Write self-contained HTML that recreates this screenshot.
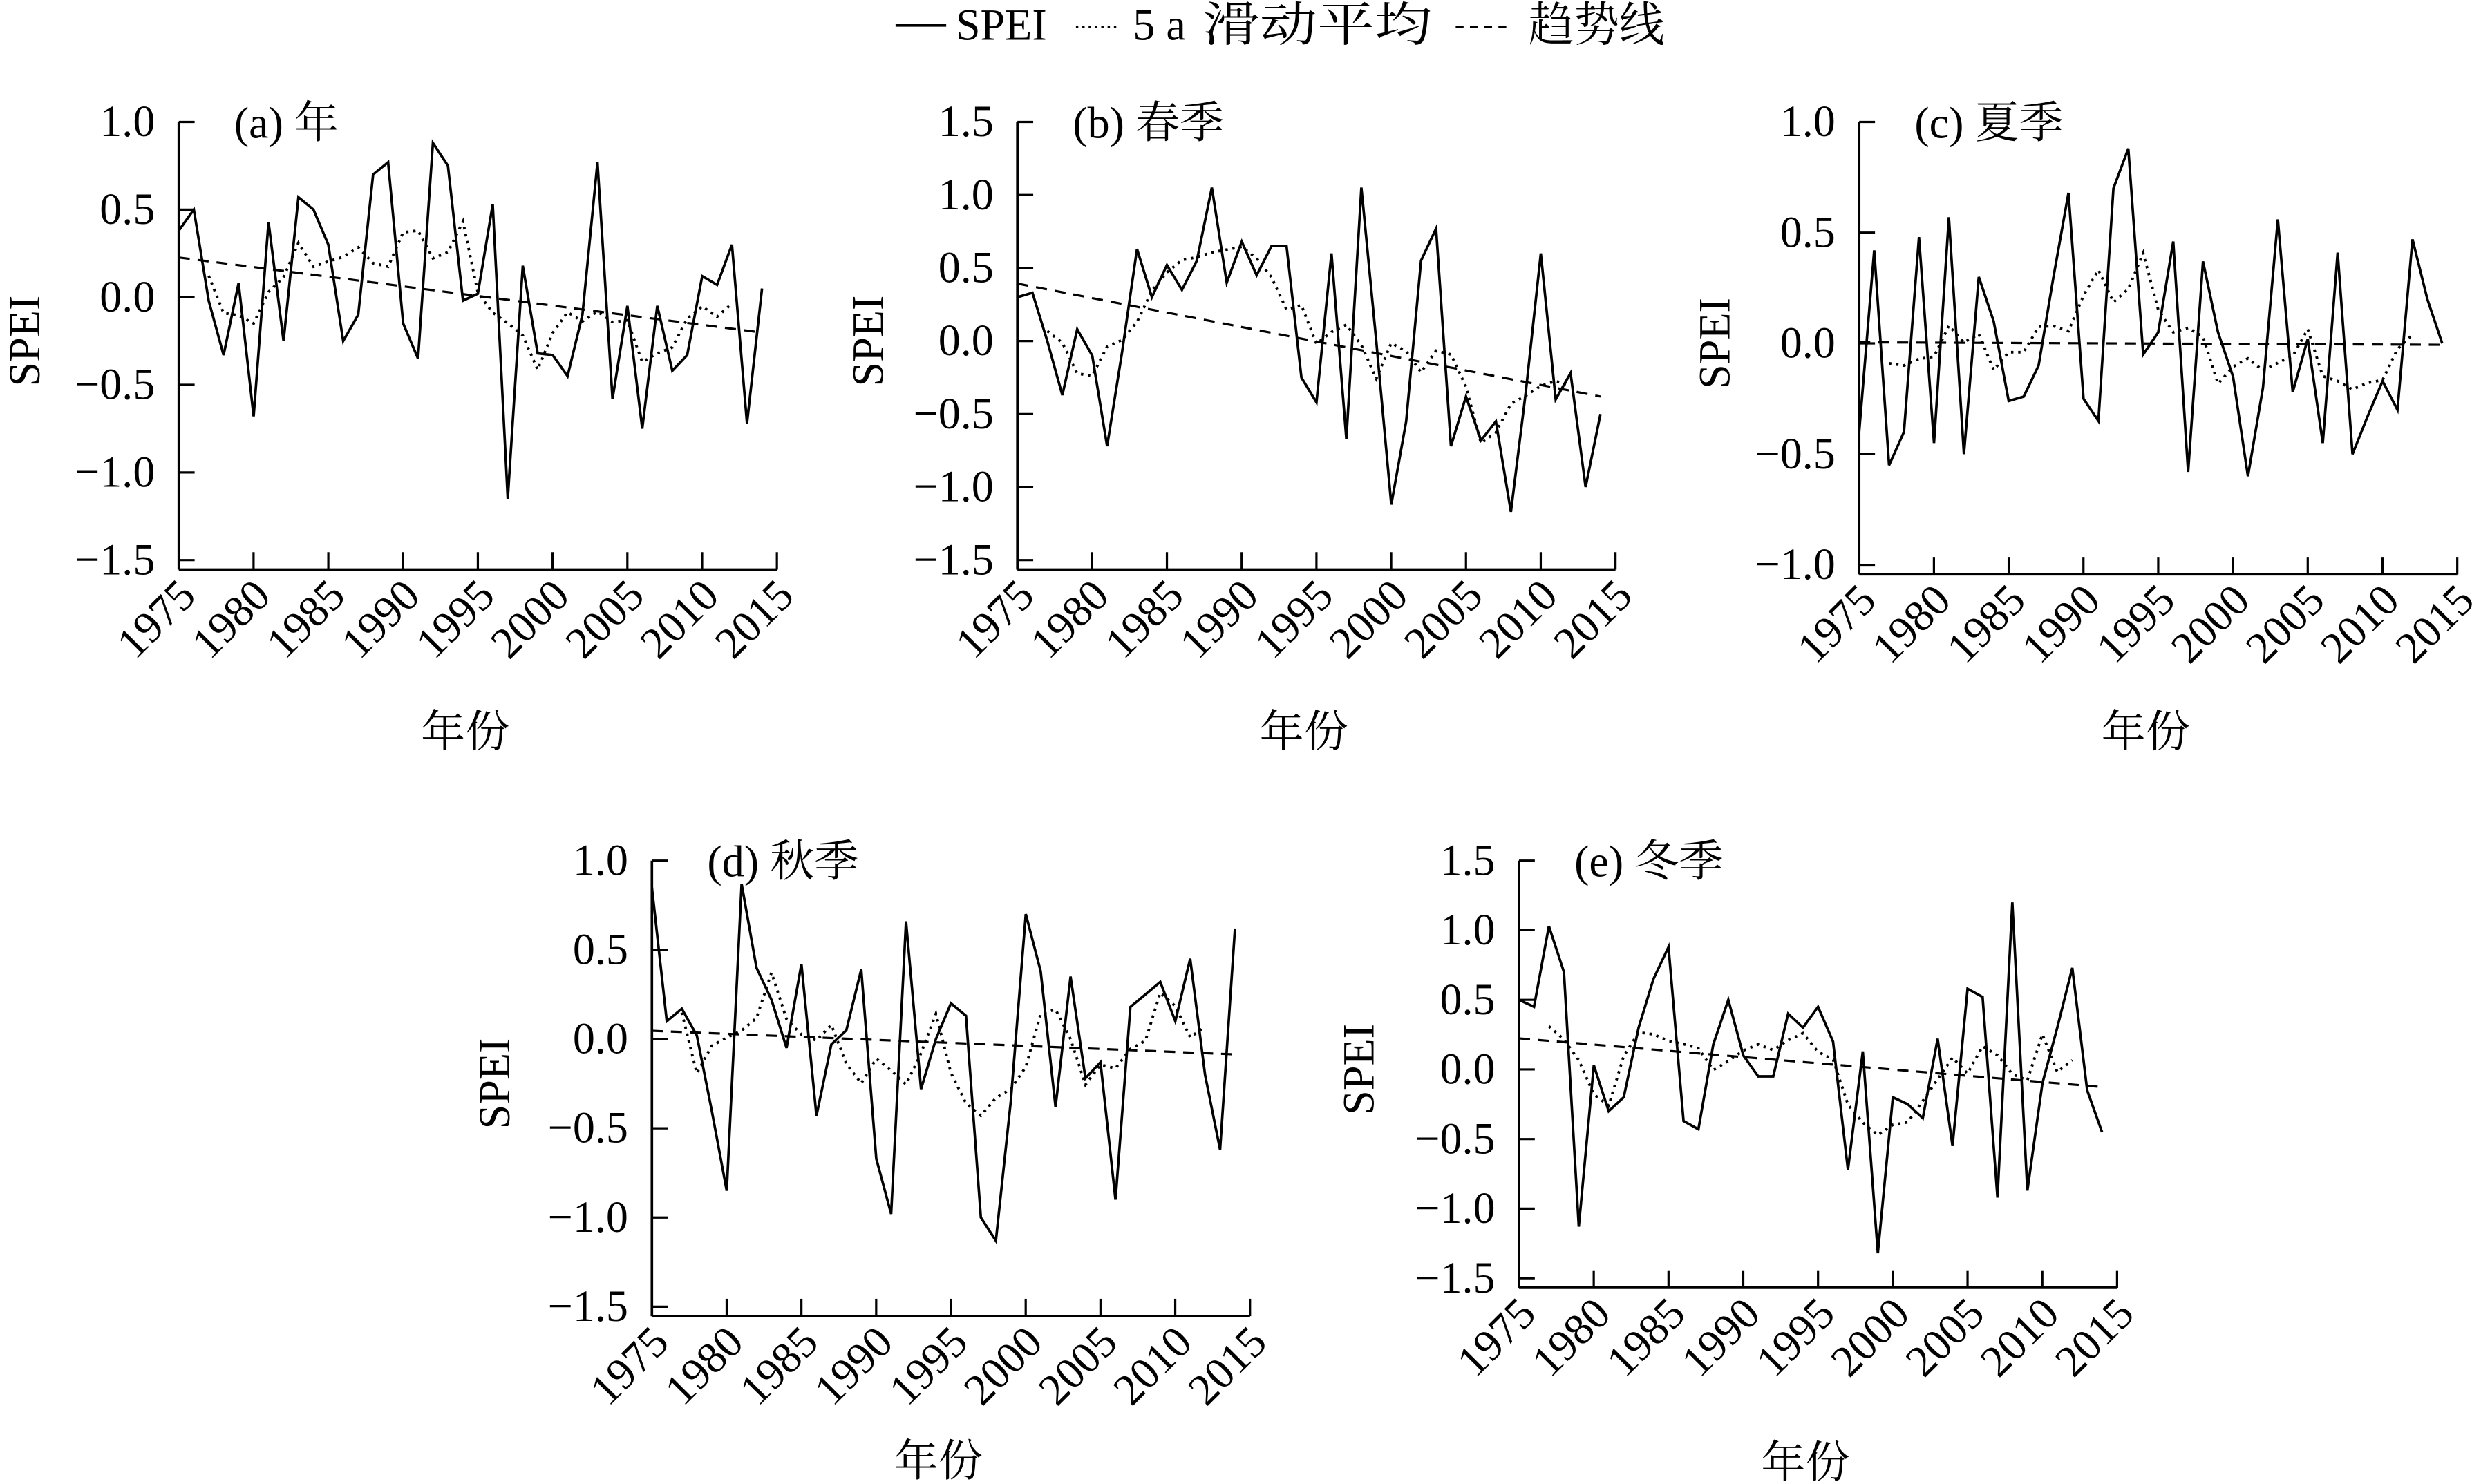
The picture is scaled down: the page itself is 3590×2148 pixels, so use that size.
<!DOCTYPE html>
<html><head><meta charset="utf-8"><style>
html,body{margin:0;padding:0;background:#fff;}
svg{display:block;}
text{font-family:"Liberation Serif","Noto Serif CJK SC","Noto Sans CJK SC",serif;fill:#000;}
</style></head><body>
<svg id="s" xmlns="http://www.w3.org/2000/svg" width="3590" height="2148" viewBox="0 0 1568 938">
<rect width="1568" height="938" fill="#fff"/>
<g font-size="28">
<line x1="566" y1="16" x2="598" y2="16" stroke="#000" stroke-width="1.6"/>
<text x="604" y="25">SPEI</text>
<line x1="680" y1="17" x2="708" y2="17" stroke="#000" stroke-width="1.6" stroke-dasharray="1.5,2.5"/>
<text x="716" y="25">5 a</text>
<text x="760" y="26" font-size="30" textLength="145" lengthAdjust="spacingAndGlyphs">滑动平均</text>
<line x1="920" y1="17" x2="955" y2="17" stroke="#000" stroke-width="1.6" stroke-dasharray="5,4"/>
<text x="966" y="26" font-size="30" textLength="86" lengthAdjust="spacingAndGlyphs">趋势线</text>
</g>
<g id="g"></g>
</svg>
<script>
var P=[
{L:113,T:77,B:354,ymax:1.0,ymin:-1.5,step:0.5,title:"(a) 年",lab:15,xo:112,
d:[0.38,0.5,-0.02,-0.33,0.08,-0.68,0.43,-0.25,0.57,0.5,0.3,-0.25,-0.1,0.7,0.77,-0.15,-0.35,0.88,0.75,-0.02,0.02,0.53,-1.15,0.18,-0.32,-0.33,-0.45,-0.1,0.77,-0.58,-0.05,-0.75,-0.05,-0.42,-0.33,0.12,0.07,0.3,-0.72,0.05]},
{L:643,T:77,B:354,ymax:1.5,ymin:-1.5,step:0.5,title:"(b) 春季",lab:548,xo:112,
d:[0.3,0.33,0,-0.37,0.08,-0.1,-0.72,-0.08,0.63,0.3,0.52,0.35,0.55,1.05,0.4,0.68,0.45,0.65,0.65,-0.25,-0.42,0.6,-0.67,1.05,0,-1.12,-0.55,0.55,0.77,-0.72,-0.38,-0.68,-0.55,-1.17,-0.35,0.6,-0.4,-0.22,-1.0,-0.5]},
{L:1175,T:77,B:357,ymax:1.0,ymin:-1.0,step:0.5,title:"(c) 夏季",lab:1083,xo:109,
d:[-0.4,0.42,-0.55,-0.4,0.48,-0.45,0.57,-0.5,0.3,0.1,-0.26,-0.24,-0.1,0.3,0.68,-0.25,-0.35,0.7,0.88,-0.05,0.05,0.46,-0.58,0.37,0.05,-0.15,-0.6,-0.2,0.56,-0.22,0.02,-0.45,0.41,-0.5,-0.33,-0.17,-0.3,0.47,0.2,0]},
{L:412,T:544,B:826,ymax:1.0,ymin:-1.5,step:0.5,title:"(d) 秋季",lab:312,xo:101,
d:[0.85,0.1,0.17,0.02,-0.4,-0.85,0.87,0.4,0.22,-0.05,0.42,-0.43,-0.03,0.05,0.39,-0.67,-0.98,0.66,-0.28,0,0.2,0.13,-1.0,-1.13,-0.35,0.7,0.38,-0.38,0.35,-0.22,-0.13,-0.9,0.18,0.25,0.32,0.1,0.45,-0.2,-0.62,0.62]},
{L:960,T:544,B:808,ymax:1.5,ymin:-1.5,step:0.5,title:"(e) 冬季",lab:858,xo:120,
d:[0.5,0.45,1.03,0.7,-1.13,0.03,-0.3,-0.2,0.3,0.65,0.88,-0.37,-0.43,0.18,0.5,0.1,-0.05,-0.05,0.4,0.3,0.45,0.2,-0.72,0.13,-1.32,-0.2,-0.25,-0.35,0.22,-0.55,0.58,0.52,-0.92,1.2,-0.87,-0.1,0.3,0.73,-0.15,-0.45]}
];
var h='';
P.forEach(function(p){
 var W=378, yx=function(i){return p.L+i*W/40;}, yy=function(v){return p.T+(p.ymax-v)/(p.ymax-p.ymin)*(p.B-p.T);};
 var AB=p.B+6;
 h+='<line x1="'+p.L+'" y1="'+p.T+'" x2="'+p.L+'" y2="'+AB+'" stroke="#000" stroke-width="1.6"/>';
 h+='<line x1="'+p.L+'" y1="'+AB+'" x2="'+(p.L+W)+'" y2="'+AB+'" stroke="#000" stroke-width="1.6"/>';
 for(var v=p.ymax;v>=p.ymin-1e-9;v-=p.step){var y=yy(v);
  h+='<line x1="'+p.L+'" y1="'+y+'" x2="'+(p.L+10)+'" y2="'+y+'" stroke="#000" stroke-width="1.4"/>';
  var s=(Math.abs(v)<1e-9?'0.0':(v<0?'\u2212'+(-v).toFixed(1):v.toFixed(1)));
  h+='<text x="'+(p.L-15)+'" y="'+(y+9)+'" font-size="28" text-anchor="end">'+s+'</text>';}
 for(var k=0;k<=8;k++){var x=yx(k*5);
  h+='<line x1="'+x+'" y1="'+AB+'" x2="'+x+'" y2="'+(AB-11)+'" stroke="#000" stroke-width="1.4"/>';
  h+='<text transform="translate('+(x+12)+','+(AB+18)+') rotate(-45)" font-size="28" text-anchor="end">'+(1975+k*5)+'</text>';}
 h+='<text x="'+(p.L+35)+'" y="'+(p.T+10)+'" font-size="28">'+p.title+'</text>';
 h+='<text transform="translate('+(p.lab+10)+','+((p.T+p.B)/2)+') rotate(-90)" font-size="28" text-anchor="middle">SPEI</text>';
 h+='<text x="'+(p.L+W/2-8)+'" y="'+(AB+p.xo)+'" font-size="28" text-anchor="middle">年份</text>';
 var pts=p.d.map(function(v,i){return yx(i).toFixed(1)+','+yy(v).toFixed(1);}).join(' ');
 h+='<polyline points="'+pts+'" fill="none" stroke="#000" stroke-width="1.6"/>';
 var ma=[];for(var i=2;i<p.d.length-2;i++){var s2=0;for(var j=-2;j<=2;j++)s2+=p.d[i+j];ma.push(yx(i).toFixed(1)+','+yy(s2/5).toFixed(1));}
 h+='<polyline points="'+ma.join(' ')+'" fill="none" stroke="#000" stroke-width="1.7" stroke-dasharray="1.5,3"/>';
 var n=p.d.length,sx=0,sy=0,sxx=0,sxy=0;p.d.forEach(function(v,i){sx+=i;sy+=v;sxx+=i*i;sxy+=i*v;});
 var b=(n*sxy-sx*sy)/(n*sxx-sx*sx),a=(sy-b*sx)/n;
 h+='<line x1="'+yx(0)+'" y1="'+yy(a)+'" x2="'+yx(n-1)+'" y2="'+yy(a+b*(n-1))+'" stroke="#000" stroke-width="1.4" stroke-dasharray="7,5"/>';
});
document.getElementById('g').innerHTML=h;
</script>
</body></html>
